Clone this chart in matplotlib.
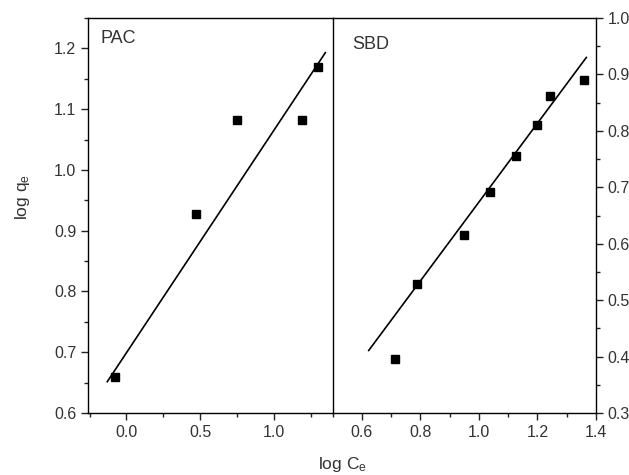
import numpy as np
from matplotlib import pyplot as plt
from matplotlib.ticker import MultipleLocator

plt.rcParams["font.family"] = ["Liberation Sans", "DejaVu Sans"]
plt.rcParams["mathtext.default"] = "regular"

# PAC data (log Ce, log qe) and linear fit
PAC_X = [-0.08, 0.475, 0.75, 1.19, 1.30]
PAC_Y = [0.660, 0.927, 1.083, 1.082, 1.170]
PAC_SLOPE, PAC_INTERCEPT = 0.366, 0.699
PAC_FIT_RANGE = [-0.13, 1.35]

# SBD data and linear fit
SBD_X = [0.712, 0.787, 0.948, 1.038, 1.126, 1.197, 1.243, 1.358]
SBD_Y = [0.395, 0.529, 0.615, 0.692, 0.756, 0.810, 0.862, 0.890]
SBD_SLOPE, SBD_INTERCEPT = 0.698, -0.024
SBD_FIT_RANGE = [0.623, 1.367]

TICK_SIZE = 11.5
LABEL_SIZE = 13
TEXT_COLOR = "#333333"


def style_axes(ax, side):
    for spine in ax.spines.values():
        spine.set_linewidth(1.0)
    ax.tick_params(which="both", direction="out", labelsize=TICK_SIZE, color="#222222",
                   labelcolor=TEXT_COLOR, top=False,
                   left=(side == "left"), right=(side == "right"),
                   labelleft=(side == "left"), labelright=(side == "right"))
    ax.tick_params(which="major", length=5, width=1)
    ax.tick_params(which="minor", length=3, width=1)


fig = plt.figure(figsize=(6.29, 4.75), dpi=100)
ax1 = fig.add_axes([0.140, 0.1305, 0.389, 0.8315])
ax2 = fig.add_axes([0.529, 0.1305, 0.4185, 0.8315])

# PAC panel
ax1.plot(PAC_X, PAC_Y, "s", color="black", markersize=6.3)
fx = np.array(PAC_FIT_RANGE)
ax1.plot(fx, PAC_SLOPE * fx + PAC_INTERCEPT, color="black", linewidth=1.2)
ax1.set_xlim(-0.26, 1.4)
ax1.set_ylim(0.6, 1.25)
ax1.xaxis.set_major_locator(MultipleLocator(0.5))
ax1.xaxis.set_minor_locator(MultipleLocator(0.25))
ax1.yaxis.set_major_locator(MultipleLocator(0.1))
ax1.yaxis.set_minor_locator(MultipleLocator(0.05))
ax1.text(0.05, 0.97, "PAC", transform=ax1.transAxes, fontsize=LABEL_SIZE,
         va="top", color=TEXT_COLOR)
style_axes(ax1, "left")
ax1.spines["right"].set_visible(False)

# SBD panel
ax2.plot(SBD_X, SBD_Y, "s", color="black", markersize=6.3)
fx = np.array(SBD_FIT_RANGE)
ax2.plot(fx, SBD_SLOPE * fx + SBD_INTERCEPT, color="black", linewidth=1.2)
ax2.set_xlim(0.5, 1.4)
ax2.set_ylim(0.3, 1.0)
ax2.xaxis.set_major_locator(MultipleLocator(0.2))
ax2.xaxis.set_minor_locator(MultipleLocator(0.1))
ax2.yaxis.set_major_locator(MultipleLocator(0.1))
ax2.yaxis.set_minor_locator(MultipleLocator(0.05))
ax2.text(0.075, 0.955, "SBD", transform=ax2.transAxes, fontsize=LABEL_SIZE,
         va="top", color=TEXT_COLOR)
style_axes(ax2, "right")

fig.text(0.035, 0.585, "log q$_e$", fontsize=12.5, ha="center", va="center",
         rotation=90, color=TEXT_COLOR)
fig.text(0.545, 0.022, "log C$_e$", fontsize=12.5, ha="center", va="center",
         color=TEXT_COLOR)

plt.savefig("out.png", dpi=100)
